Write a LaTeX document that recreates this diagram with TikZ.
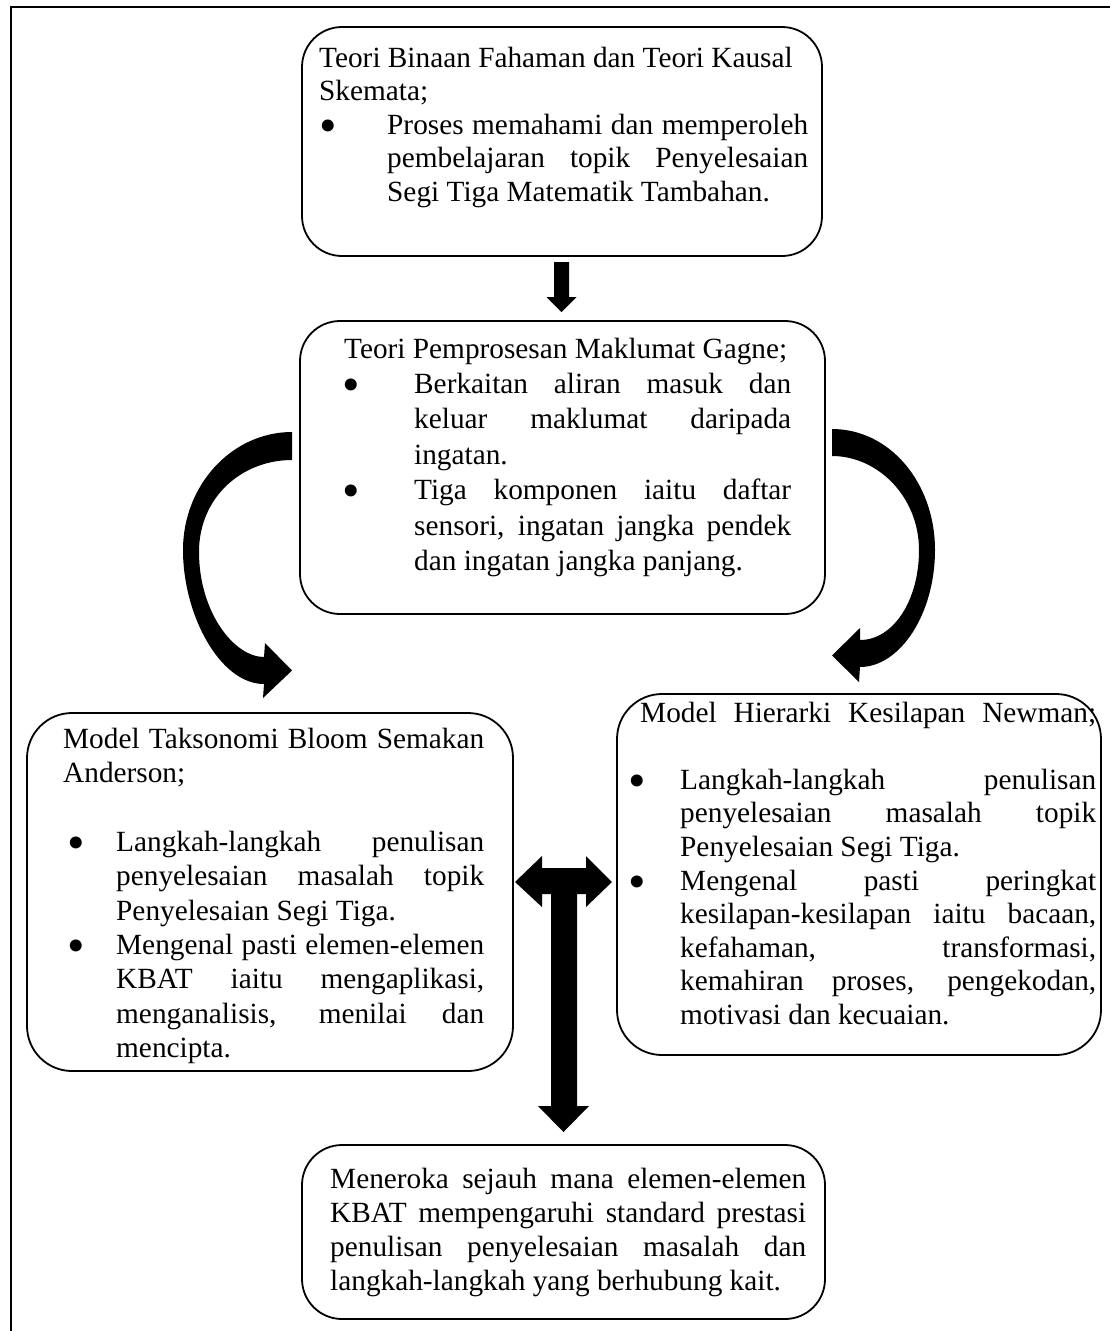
\documentclass[tikz,border=0pt]{standalone}
\usepackage{fontspec}
\setmainfont{Liberation Serif}
\hyphenpenalty=10000
\exhyphenpenalty=10000
\tolerance=10000
\hbadness=10000
\newcommand{\bul}{{\fontsize{50}{0}\selectfont\raisebox{-8pt}{•}}}
\newcommand{\bitem}[3]{\par\hangindent=#2\hangafter=1\noindent\makebox[#2][l]{\hspace*{#1}\bul}\ignorespaces#3\par}
\newcommand{\blankline}{\par\vspace{\baselineskip}}
\begin{document}
\begin{tikzpicture}[x=1pt,y=-1pt,
  box/.style={draw=black, line width=1.8pt, rounded corners=40pt, inner sep=0pt},
  txt/.style={inner sep=0pt, anchor=base west, align=justify},
  blockarrow/.style={fill=black, draw=none},
  frame/.style={draw=black, line width=1.3pt}]
\useasboundingbox (0,0) rectangle (1110,1331);
\draw[frame] (10,7) -- (1110,7);
\draw[frame] (11,7) -- (11,1331);

% boxes
\node[box, minimum width=520pt, minimum height=229pt] (b1) at (562,141.5) {};
\node[box, minimum width=525pt, minimum height=293pt] (b2) at (562.5,467.5) {};
\node[box, minimum width=486pt, minimum height=358pt, rounded corners=45pt] (b3) at (270,892) {};
\node[box, minimum width=484pt, minimum height=361pt, rounded corners=45pt] (b4) at (859,874.5) {};
\node[box, minimum width=523pt, minimum height=174pt] (b5) at (563.5,1232) {};

% texts
\node[txt, text width=489pt, font=\fontsize{29.3}{33.5}\selectfont] (t1) at (319,67)
{Teori Binaan Fahaman dan Teori Kausal\newline Skemata;%
\bitem{0pt}{68pt}{Proses memahami dan memperoleh\linebreak pembelajaran topik Penyelesaian\linebreak Segi Tiga Matematik Tambahan.}};

\node[txt, text width=447pt, font=\fontsize{29.3}{35.4}\selectfont] (t2) at (344,358)
{Teori Pemprosesan Maklumat Gagne;%
\bitem{-2pt}{70pt}{Berkaitan aliran masuk dan\linebreak keluar maklumat daripada\linebreak ingatan.}%
\bitem{-2pt}{70pt}{Tiga komponen iaitu daftar\linebreak sensori, ingatan jangka pendek\linebreak dan ingatan jangka panjang.}};

\node[txt, text width=421pt, font=\fontsize{29.3}{34.4}\selectfont] (t3) at (63,748)
{Model Taksonomi Bloom Semakan\linebreak Anderson;%
\blankline
\bitem{4pt}{53pt}{Langkah-langkah penulisan\linebreak penyelesaian masalah topik\linebreak Penyelesaian Segi Tiga.}%
\bitem{4pt}{53pt}{Mengenal pasti elemen-elemen\linebreak KBAT iaitu mengaplikasi,\linebreak menganalisis, menilai dan\linebreak mencipta.}};

\node[txt, text width=456pt, font=\fontsize{29.3}{33.6}\selectfont] (t4) at (640,722)
{{\parfillskip=0pt Model Hierarki Kesilapan Newman;\par}%
\blankline
\bitem{-12pt}{40pt}{Langkah-langkah penulisan\linebreak penyelesaian masalah topik\linebreak Penyelesaian Segi Tiga.}%
\bitem{-12pt}{40pt}{Mengenal pasti peringkat\linebreak kesilapan-kesilapan iaitu bacaan,\linebreak kefahaman, transformasi,\linebreak kemahiran proses, pengekodan,\linebreak motivasi dan kecuaian.}};

\node[txt, text width=476pt, font=\fontsize{29.3}{34}\selectfont] (t5) at (330,1188)
{Meneroka sejauh mana elemen-elemen\linebreak KBAT mempengaruhi standard prestasi\linebreak penulisan penyelesaian masalah dan\linebreak langkah-langkah yang berhubung kait.};

% top arrow b1 -> b2
\fill[blockarrow] (554,262) -- (569,262) -- (569,297) -- (576.5,297) -- (561.5,312) -- (546.5,297) -- (554,297) -- cycle;

% left curved arrow b2 -> b3
\fill[blockarrow] (292,432) .. controls (232,432) and (183,485) .. (183,550)
  .. controls (183,615) and (220,684) .. (264,684)
  -- (263,698) -- (292,670.5) -- (265,643) -- (264,657)
  .. controls (234,657) and (199,612) .. (199,552)
  .. controls (199,497) and (242,460) .. (292,460) -- cycle;

% right curved arrow b2 -> b4
\fill[blockarrow] (832,429) .. controls (890,429) and (935,483) .. (935,550)
  .. controls (935,614) and (900,667) .. (860,667)
  -- (859,682) -- (832,655.5) -- (860,628) -- (860,640)
  .. controls (893,640) and (919,601) .. (919,550)
  .. controls (919,497) and (878,456) .. (832,456) -- cycle;

% T arrow: b3 <-> b4 and down to b5
\fill[blockarrow] (515,882) -- (542,856) -- (542,868) -- (586,868) -- (586,856) -- (612,882)
  -- (586,907) -- (586,894) -- (577,894) -- (577,1106) -- (589,1106) -- (563.5,1132)
  -- (538,1106) -- (551,1106) -- (551,894) -- (542,894) -- (542,907) -- cycle;
\end{tikzpicture}
\end{document}
